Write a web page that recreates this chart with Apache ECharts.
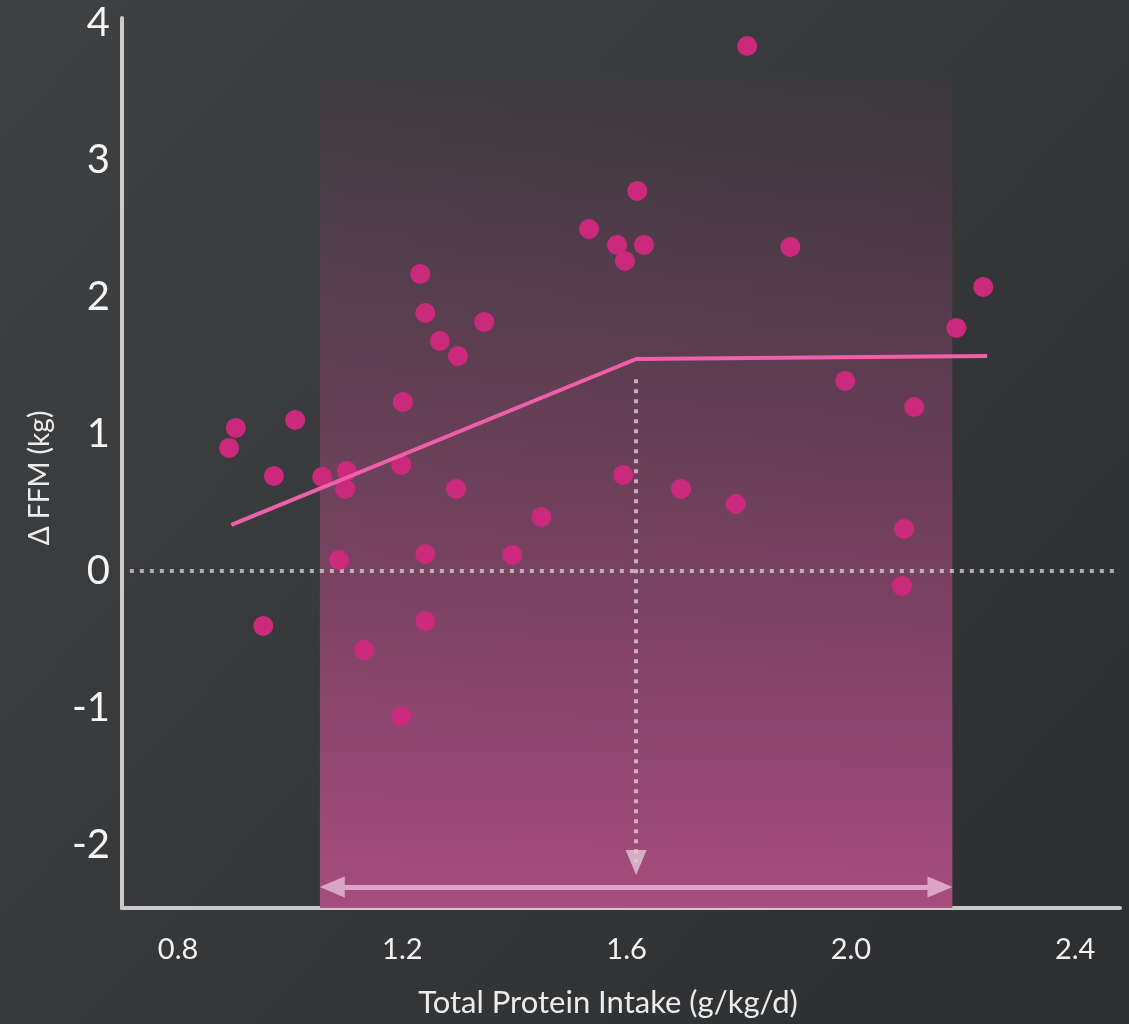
<!DOCTYPE html>
<html><head><meta charset="utf-8">
<script src="https://cdn.jsdelivr.net/npm/echarts@6/dist/echarts.min.js"></script>
<style>html,body{margin:0;padding:0;background:#363739}#chart{width:1129px;height:1024px}</style>
</head><body><div id="chart"></div>
<script>
// ---- data ----
const xTicks = [0.8, 1.2, 1.6, 2.0, 2.4];
const yTicks = [-2, -1, 0, 1, 2, 3, 4];
const proteinIntake = [0.903,0.891,1.009,0.971,1.057,0.952,1.232,1.241,1.267,1.299,1.346,1.201,1.198,1.101,1.098,1.296,1.448,1.241,1.396,1.087,1.533,1.583,1.631,1.597,1.594,1.697,1.815,1.619,1.892,2.236,2.188,1.990,2.113,1.795,2.095,2.091,1.132,1.198,1.241];
const deltaFFM      = [1.044,0.898,1.102,0.693,0.686,-0.401,2.168,1.883,1.679,1.569,1.818,1.234,0.774,0.730,0.599,0.599,0.394,0.124,0.117,0.080,2.496,2.380,2.380,2.263,0.701,0.599,3.832,2.774,2.365,2.073,1.774,1.387,1.197,0.489,0.307,-0.109,-0.577,-1.058,-0.365];
const trendX = [0.895, 1.617, 2.243];
const trendY = [0.336, 1.547, 1.569];
const bandX = [1.053, 2.181];
const bandTop = 3.6;
const breakpointX = 1.617;
const xName = 'Total Protein Intake (g/kg/d)';
const yName = 'Δ FFM (kg)';

const FONT = 'Lato, "Open Sans", sans-serif';
const scatterData = proteinIntake.map((x, i) => [x, deltaFFM[i]]);
const trendData = trendX.map((x, i) => [x, trendY[i]]);
const X_MIN = 0.70, X_MAX = 2.48, Y_MIN = -2.46, Y_MAX = 4.036;

const chart = echarts.init(document.getElementById('chart'), null, {renderer: 'canvas'});
chart.setOption({
  animation: false,
  backgroundColor: {type: 'linear', x: 0, y: 0, x2: 1, y2: 1,
    colorStops: [{offset: 0, color: '#404143'}, {offset: 1, color: '#2d2e30'}]},
  grid: {left: 122, right: 9, top: 18, bottom: 116, outerBoundsMode: 'none'},
  xAxis: {
    type: 'value', min: X_MIN, max: X_MAX,
    axisLine: {show: true, onZero: false, lineStyle: {color: '#cacaca', width: 4}},
    axisTick: {show: false}, splitLine: {show: false},
    axisLabel: {customValues: xTicks, formatter: v => v.toFixed(1), color: '#f2f2f2',
      fontSize: 29, fontFamily: FONT, margin: 27}
  },
  yAxis: {
    type: 'value', min: Y_MIN, max: Y_MAX,
    axisLine: {show: true, onZero: false, lineStyle: {color: '#cacaca', width: 4}},
    axisTick: {show: false}, splitLine: {show: false},
    axisLabel: {customValues: yTicks, formatter: v => String(v), color: '#f5f5f5',
      fontSize: 40, fontFamily: FONT, margin: 12}
  },
  graphic: [
    {type: 'text', x: 40, y: 478, rotation: Math.PI / 2,
      style: {text: yName, fill: '#ececec', font: '28px ' + FONT, align: 'center', verticalAlign: 'middle'}},
    {type: 'text', x: 608, y: 1003,
      style: {text: xName, fill: '#ececec', font: '31px ' + FONT, align: 'center', verticalAlign: 'middle'}}
  ],
  series: [
    {
      type: 'line', data: [], z: 1, silent: true,
      markArea: {silent: true, z: 1,
        itemStyle: {color: {type: 'linear', x: 0, y: 0, x2: 0, y2: 1, colorStops: [
          {offset: 0, color: 'rgba(160,70,120,0.03)'},
          {offset: 0.5, color: 'rgba(165,72,124,0.5)'},
          {offset: 1, color: 'rgba(172,78,128,0.96)'}]}},
        data: [[{coord: [bandX[0], bandTop]}, {coord: [bandX[1], Y_MIN]}]]
      },
      markLine: {silent: true, symbol: ['none', 'none'], z: 2, label: {show: false},
        lineStyle: {color: 'rgba(215,215,215,0.75)', width: 4, type: [4, 6], cap: 'butt'},
        data: [[{coord: [0.714, 0]}, {coord: [2.474, 0]}]]
      }
    },
    {
      type: 'line', data: [], z: 2, silent: true,
      markLine: {silent: true, symbol: ['none', 'triangle'], symbolSize: [21, 25], label: {show: false},
        lineStyle: {color: 'rgba(225,200,215,0.8)', width: 4, type: [4, 6], cap: 'butt'},
        data: [[{coord: [breakpointX, 1.40]}, {coord: [breakpointX, -2.128]}]]
      }
    },
    {
      type: 'line', data: [], z: 2, silent: true,
      markLine: {silent: true, symbol: ['triangle', 'triangle'], symbolSize: [21, 25], label: {show: false},
        lineStyle: {color: '#dba5c5', width: 5, type: 'solid'},
        data: [[{coord: [bandX[0] + 0.022, -2.307]}, {coord: [bandX[1] - 0.022, -2.307]}]]
      }
    },
    {
      type: 'scatter', data: scatterData, z: 3, symbolSize: 20,
      itemStyle: {color: '#cb2a7c', opacity: 1}
    },
    {
      type: 'line', data: trendData, z: 4, symbol: 'none',
      lineStyle: {color: '#ef60a8', width: 4}
    }
  ]
});
</script></body></html>
